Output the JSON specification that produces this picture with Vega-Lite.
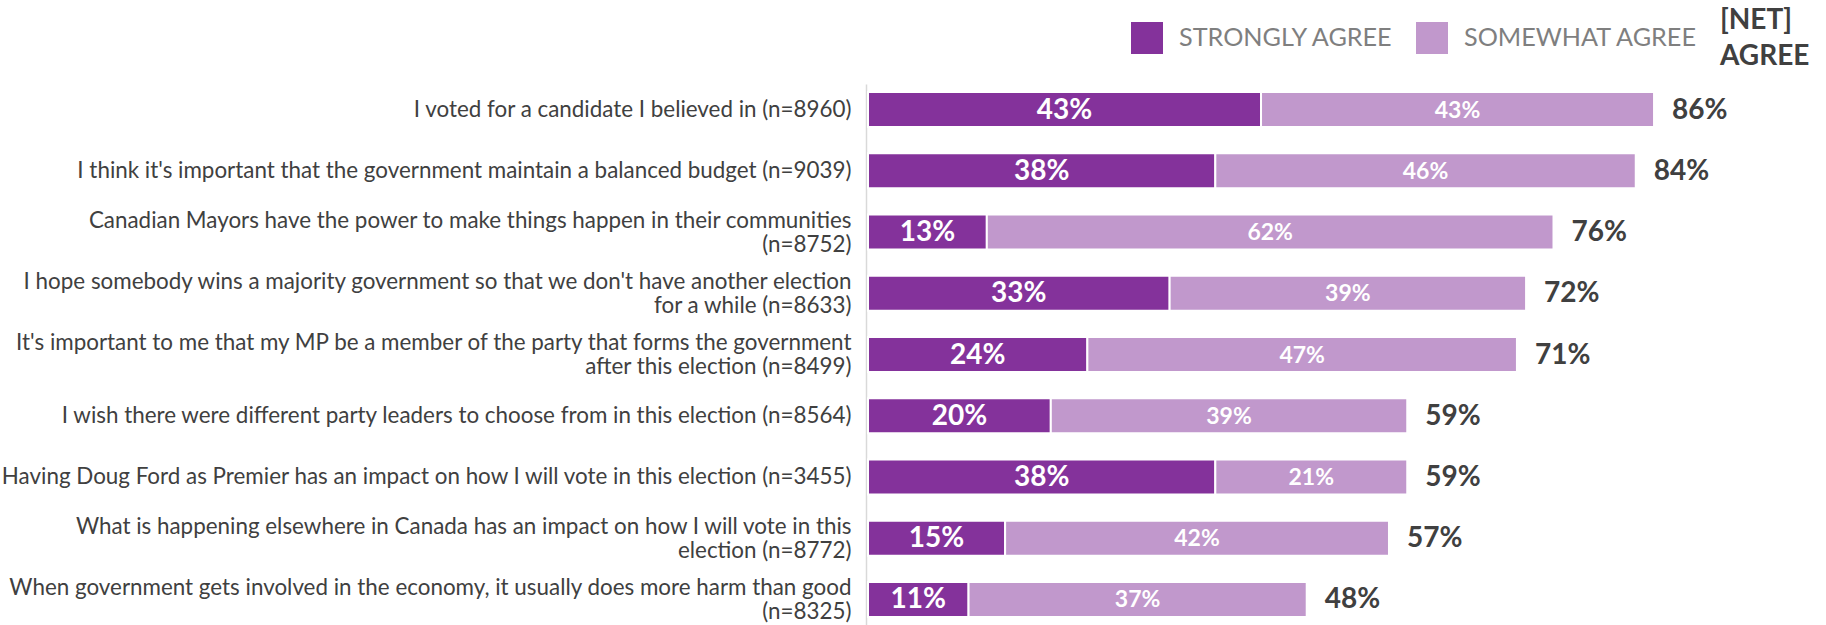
{
  "$schema": "https://vega.github.io/schema/vega-lite/v6.json",
  "autosize": {"type": "none"},
  "padding": {"left": 868, "top": 84, "right": 44, "bottom": 0},
  "width": 914,
  "height": 541,
  "config": {
    "font": "Lato",
    "view": {"stroke": null}
  },
  "title": {
    "text": ["[NET]", "AGREE"],
    "anchor": "end",
    "frame": "group",
    "align": "left",
    "dx": -62,
    "dy": 67,
    "fontSize": 28,
    "fontWeight": "bold",
    "color": "#404040",
    "lineHeight": 36,
    "offset": 18
  },
  "data": {
    "values": [
      {"q": "I voted for a candidate I believed in (n=8960)", "order": 1, "type": "STRONGLY AGREE", "k": 1, "value": 0.43, "net": 0.86},
      {"q": "I voted for a candidate I believed in (n=8960)", "order": 1, "type": "SOMEWHAT AGREE", "k": 2, "value": 0.43, "net": 0.86},
      {"q": "I think it's important that the government maintain a balanced budget (n=9039)", "order": 2, "type": "STRONGLY AGREE", "k": 1, "value": 0.38, "net": 0.84},
      {"q": "I think it's important that the government maintain a balanced budget (n=9039)", "order": 2, "type": "SOMEWHAT AGREE", "k": 2, "value": 0.46, "net": 0.84},
      {"q": "Canadian Mayors have the power to make things happen in their communities|(n=8752)", "order": 3, "type": "STRONGLY AGREE", "k": 1, "value": 0.13, "net": 0.76},
      {"q": "Canadian Mayors have the power to make things happen in their communities|(n=8752)", "order": 3, "type": "SOMEWHAT AGREE", "k": 2, "value": 0.62, "net": 0.76},
      {"q": "I hope somebody wins a majority government so that we don't have another election|for a while (n=8633)", "order": 4, "type": "STRONGLY AGREE", "k": 1, "value": 0.33, "net": 0.72},
      {"q": "I hope somebody wins a majority government so that we don't have another election|for a while (n=8633)", "order": 4, "type": "SOMEWHAT AGREE", "k": 2, "value": 0.39, "net": 0.72},
      {"q": "It's important to me that my MP be a member of the party that forms the government|after this election (n=8499)", "order": 5, "type": "STRONGLY AGREE", "k": 1, "value": 0.24, "net": 0.71},
      {"q": "It's important to me that my MP be a member of the party that forms the government|after this election (n=8499)", "order": 5, "type": "SOMEWHAT AGREE", "k": 2, "value": 0.47, "net": 0.71},
      {"q": "I wish there were different party leaders to choose from in this election (n=8564)", "order": 6, "type": "STRONGLY AGREE", "k": 1, "value": 0.20, "net": 0.59},
      {"q": "I wish there were different party leaders to choose from in this election (n=8564)", "order": 6, "type": "SOMEWHAT AGREE", "k": 2, "value": 0.39, "net": 0.59},
      {"q": "Having Doug Ford as Premier has an impact on how I will vote in this election (n=3455)", "order": 7, "type": "STRONGLY AGREE", "k": 1, "value": 0.38, "net": 0.59},
      {"q": "Having Doug Ford as Premier has an impact on how I will vote in this election (n=3455)", "order": 7, "type": "SOMEWHAT AGREE", "k": 2, "value": 0.21, "net": 0.59},
      {"q": "What is happening elsewhere in Canada has an impact on how I will vote in this|election (n=8772)", "order": 8, "type": "STRONGLY AGREE", "k": 1, "value": 0.15, "net": 0.57},
      {"q": "What is happening elsewhere in Canada has an impact on how I will vote in this|election (n=8772)", "order": 8, "type": "SOMEWHAT AGREE", "k": 2, "value": 0.42, "net": 0.57},
      {"q": "When government gets involved in the economy, it usually does more harm than good|(n=8325)", "order": 9, "type": "STRONGLY AGREE", "k": 1, "value": 0.11, "net": 0.48},
      {"q": "When government gets involved in the economy, it usually does more harm than good|(n=8325)", "order": 9, "type": "SOMEWHAT AGREE", "k": 2, "value": 0.37, "net": 0.48}
    ]
  },
  "encoding": {
    "y": {
      "field": "q",
      "type": "nominal",
      "sort": {"field": "order", "op": "min"},
      "scale": {"paddingInner": 0.429, "paddingOuter": 0.131},
      "axis": {
        "title": null,
        "ticks": false,
        "tickSize": 0,
        "domain": true,
        "domainColor": "#d9d9d9",
        "domainWidth": 1.5,
        "offset": 2,
        "labelPadding": 15,
        "labelFont": "Lato",
        "labelFontSize": 22.4,
        "labelColor": "#404040",
        "labelLimit": 900,
        "labelLineHeight": 24,
        "labelAlign": "right",
        "labelBaseline": "middle",
        "labelOffset": {"condition": {"test": "indexof(datum.value, '|') >= 0", "value": -11.5}, "value": 0},
        "labelExpr": "split(datum.label, '|')"
      }
    }
  },
  "layer": [
    {
      "mark": {"type": "bar", "stroke": "white", "strokeWidth": 2},
      "encoding": {
        "x": {"field": "value", "type": "quantitative", "stack": "zero", "scale": {"domain": [0, 1], "nice": false}, "axis": null},
        "order": {"field": "k", "type": "quantitative"},
        "color": {
          "field": "type",
          "type": "nominal",
          "scale": {"domain": ["STRONGLY AGREE", "SOMEWHAT AGREE"], "range": ["#84329b", "#c198cc"]},
          "legend": {
            "title": null,
            "orient": "none",
            "legendX": 263,
            "legendY": -62,
            "direction": "horizontal",
            "columns": 2,
            "padding": 0,
            "symbolType": "square",
            "symbolSize": 1024,
            "symbolStrokeWidth": 0,
            "labelFont": "Lato",
            "labelFontSize": 25.2,
            "labelColor": "#7f7f7f",
            "labelOffset": 16,
            "columnPadding": 22,
            "labelLimit": 400
          }
        }
      }
    },
    {
      "mark": {"type": "text", "color": "white", "fontWeight": "bold", "baseline": "middle", "dy": 1, "fontSize": 28},
      "transform": [{"filter": "datum.k == 1"}],
      "encoding": {
        "x": {"field": "value", "type": "quantitative", "bandPosition": 0.5, "stack": "zero"},
        "text": {"field": "value", "type": "quantitative", "format": ".0%"}
      }
    },
    {
      "mark": {"type": "text", "color": "white", "fontWeight": "bold", "baseline": "middle", "dy": 1, "fontSize": 23},
      "encoding": {
        "x": {"field": "value", "type": "quantitative", "stack": "zero", "bandPosition": 0.5},
        "order": {"field": "k", "type": "quantitative"},
        "text": {"condition": {"test": "datum.k == 2", "field": "value", "type": "quantitative", "format": ".0%"}, "value": ""}
      }
    },
    {
      "mark": {"type": "text", "color": "#404040", "fontWeight": "bold", "fontSize": 28, "align": "left", "baseline": "middle", "dx": 18, "dy": 1},
      "encoding": {
        "x": {"field": "value", "type": "quantitative", "aggregate": "sum"},
        "text": {"field": "net", "type": "quantitative", "aggregate": "max", "format": ".0%"}
      }
    }
  ]
}
